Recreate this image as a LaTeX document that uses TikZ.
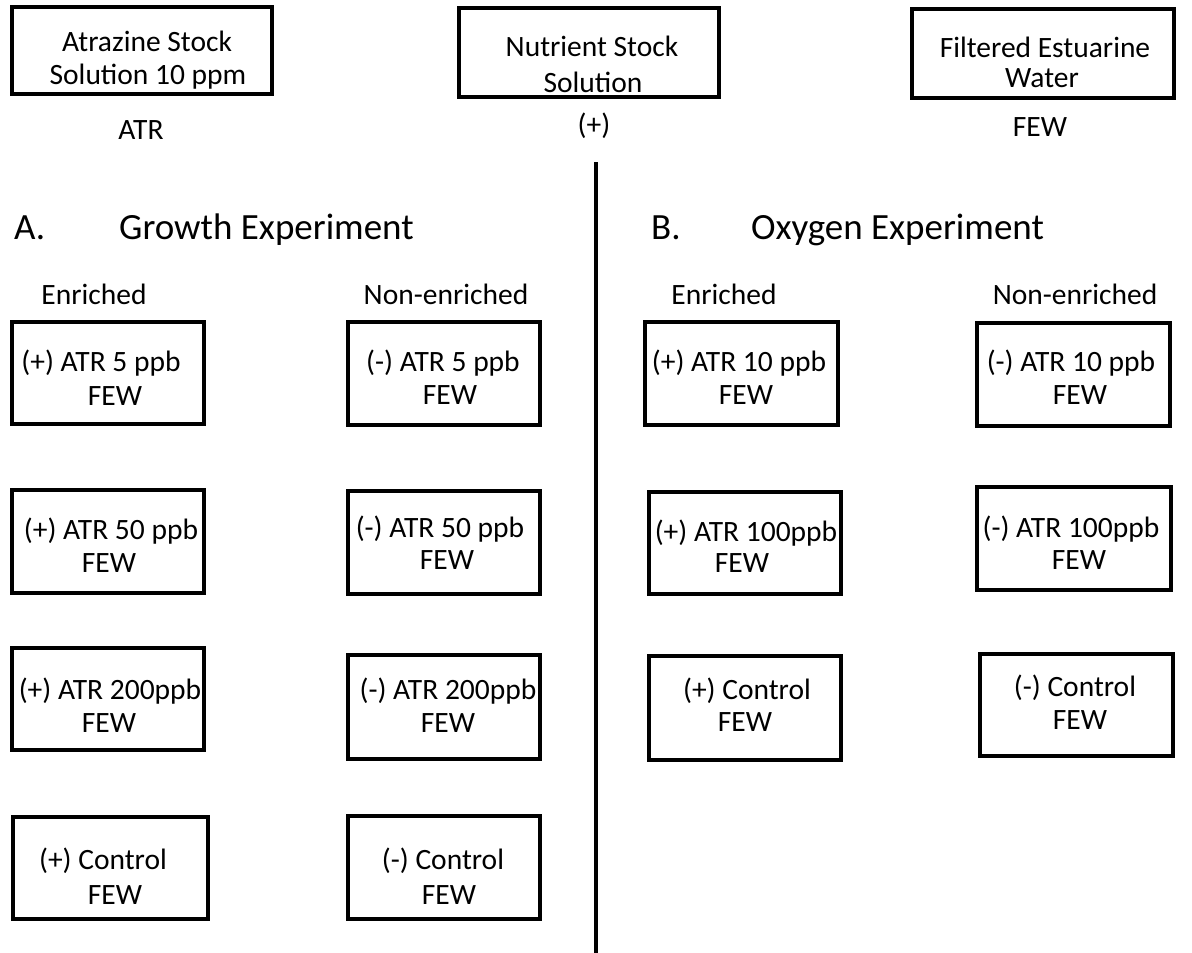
\documentclass[tikz,border=0pt]{standalone}
\usepackage{fontspec}
\setmainfont{Carlito}
\usetikzlibrary{fit}
\begin{document}
\begin{tikzpicture}[x=1pt,y=-1pt,
  box/.style={draw,line width=4pt,inner sep=0pt,rectangle},
  txt/.style={anchor=base,inner sep=0pt,font=\fontsize{29.5}{33}\selectfont},
  head/.style={anchor=base west,inner sep=0pt,font=\fontsize{37}{44}\selectfont}]
\useasboundingbox (0,0) rectangle (1192,953);
% top boxes
\node[box,fit={(12,7)(272,94)}] (atrbox) {};
\node[txt] (atr1) at (147,51) {Atrazine Stock};
\node[txt] (atr2) at (148,84) {Solution 10 ppm};
\node[txt] (atrlab) at (141,139) {ATR};
\node[box,fit={(459,8)(719,97)}] (nutbox) {};
\node[txt] (nut1) at (592,56) {Nutrient Stock};
\node[txt] (nut2) at (593,92) {Solution};
\node[txt] (nutlab) at (594,134) {(+)};
\node[box,fit={(912,9)(1174,98)}] (filbox) {};
\node[txt] (fil1) at (1045,57) {Filtered Estuarine};
\node[txt] (fil2) at (1042,87) {Water};
\node[txt] (fillab) at (1040,136) {FEW};
% divider
\coordinate (divtop) at (596,162);
\coordinate (divbot) at (596,953);
\draw[line width=4pt] (divtop) -- (divbot);
% headings
\node[head] (ha) at (14,239) {A.};
\node[head] (hat) at (119,239) {Growth Experiment};
\node[head] (hb) at (651,239) {B.};
\node[head] (hbt) at (751,239) {Oxygen Experiment};
\node[txt] (enra) at (94,304) {Enriched};
\node[txt] (nena) at (446,304) {Non-enriched};
\node[txt] (enrb) at (724,304) {Enriched};
\node[txt] (nenb) at (1075,304) {Non-enriched};
% A column enriched
\node[box,fit={(12,322)(204,424)}] (a1p) {};
\node[txt] at (101,371) (a1pt) {(+) ATR 5 ppb};
\node[txt] at (115,405) (a1pf) {FEW};
\node[box,fit={(12,490)(204,593)}] (a2p) {};
\node[txt] at (111,539) (a2pt) {(+) ATR 50 ppb};
\node[txt] at (109,572) (a2pf) {FEW};
\node[box,fit={(12,648)(204,750)}] (a3p) {};
\node[txt] at (110,699) (a3pt) {(+) ATR 200ppb};
\node[txt] at (109,732) (a3pf) {FEW};
\node[box,fit={(13,817)(208,919)}] (a4p) {};
\node[txt] at (103,869) (a4pt) {(+) Control};
\node[txt] at (115,904) (a4pf) {FEW};
% A column non-enriched
\node[box,fit={(348,322)(540,425)}] (a1m) {};
\node[txt] at (443,371) (a1mt) {(-) ATR 5 ppb};
\node[txt] at (450,404) (a1mf) {FEW};
\node[box,fit={(348,491)(540,594)}] (a2m) {};
\node[txt] at (440,537) (a2mt) {(-) ATR 50 ppb};
\node[txt] at (447,569) (a2mf) {FEW};
\node[box,fit={(348,655)(540,759)}] (a3m) {};
\node[txt] at (448,699) (a3mt) {(-) ATR 200ppb};
\node[txt] at (448,732) (a3mf) {FEW};
\node[box,fit={(348,816)(540,919)}] (a4m) {};
\node[txt] at (443,869) (a4mt) {(-) Control};
\node[txt] at (449,904) (a4mf) {FEW};
% B column enriched
\node[box,fit={(645,322)(838,425)}] (b1p) {};
\node[txt] at (739,371) (b1pt) {(+) ATR 10 ppb};
\node[txt] at (746,404) (b1pf) {FEW};
\node[box,fit={(649,492)(841,594)}] (b2p) {};
\node[txt] at (746,541) (b2pt) {(+) ATR 100ppb};
\node[txt] at (742,572) (b2pf) {FEW};
\node[box,fit={(649,656)(841,760)}] (b3p) {};
\node[txt] at (747,699) (b3pt) {(+) Control};
\node[txt] at (745,731) (b3pf) {FEW};
% B column non-enriched
\node[box,fit={(977,323)(1170,426)}] (b1m) {};
\node[txt] at (1071,371) (b1mt) {(-) ATR 10 ppb};
\node[txt] at (1080,404) (b1mf) {FEW};
\node[box,fit={(977,487)(1171,590)}] (b2m) {};
\node[txt] at (1071,537) (b2mt) {(-) ATR 100ppb};
\node[txt] at (1079,569) (b2mf) {FEW};
\node[box,fit={(980,654)(1173,756)}] (b3m) {};
\node[txt] at (1075,696) (b3mt) {(-) Control};
\node[txt] at (1080,729) (b3mf) {FEW};
\end{tikzpicture}
\end{document}
